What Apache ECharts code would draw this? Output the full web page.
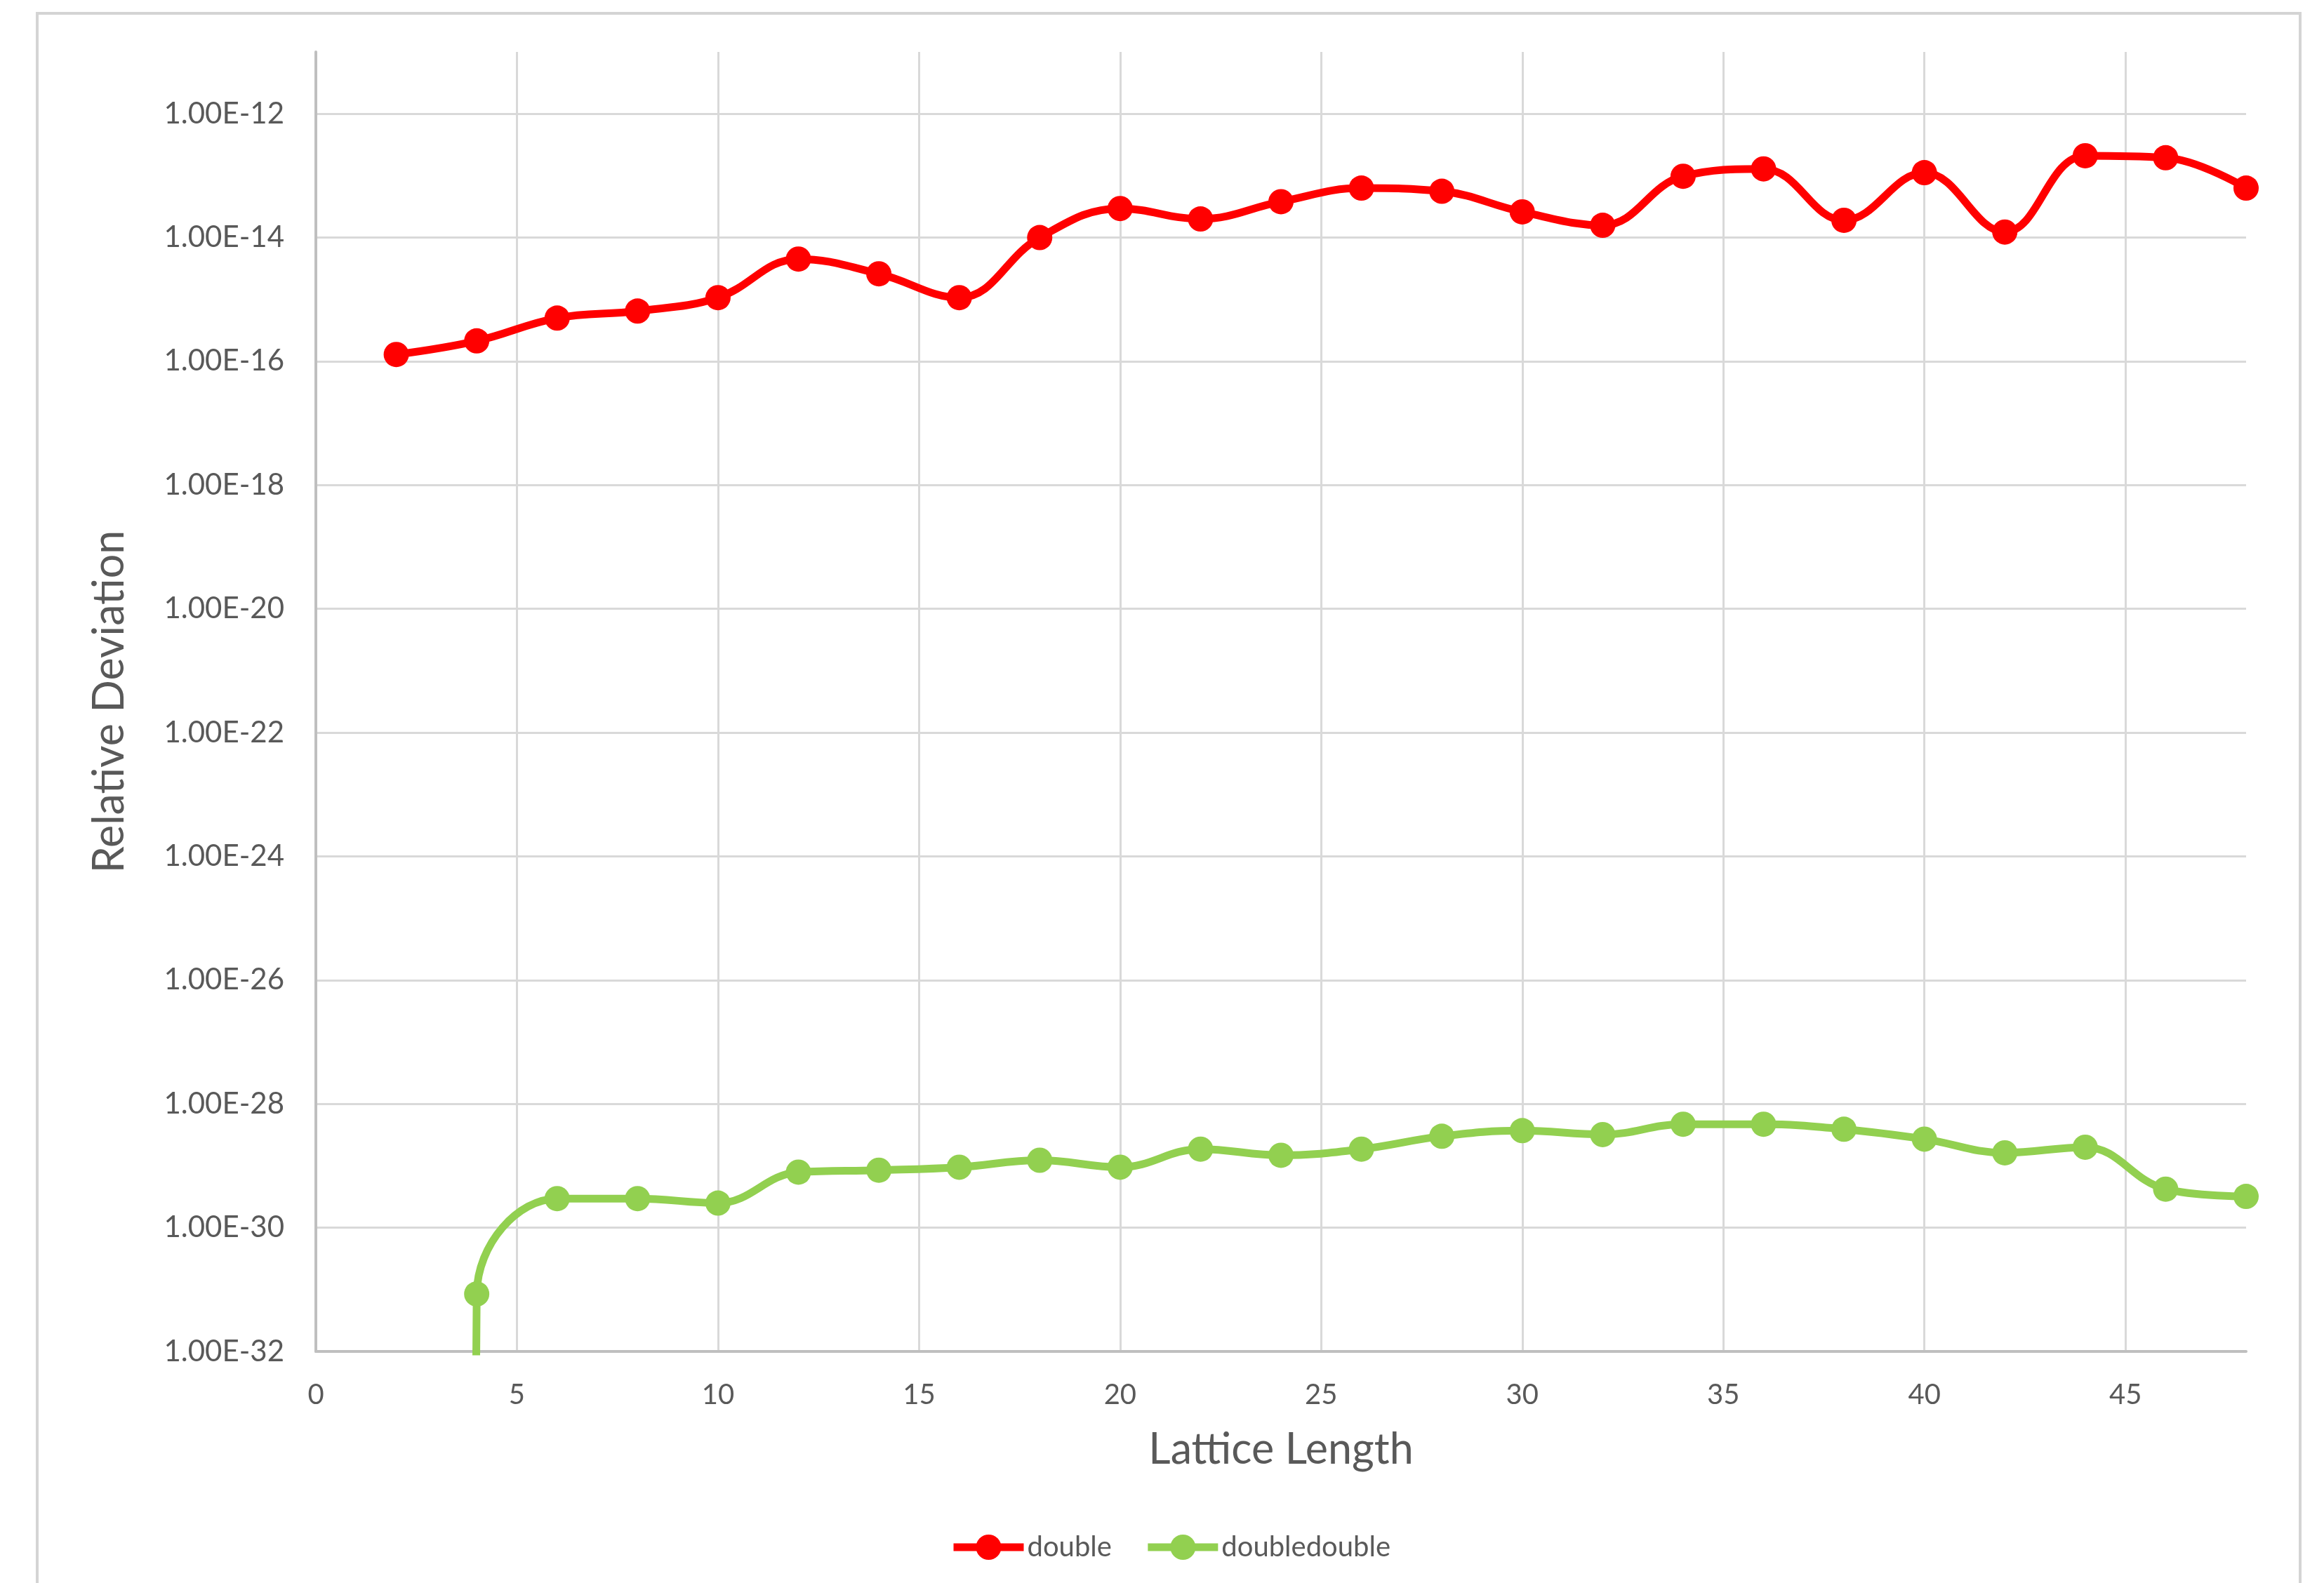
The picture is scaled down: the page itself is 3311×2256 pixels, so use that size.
<!DOCTYPE html>
<html>
<head>
<meta charset="utf-8">
<script src="https://cdn.jsdelivr.net/npm/echarts@6/dist/echarts.min.js"></script>
<style>
  html, body { margin: 0; padding: 0; background: #ffffff; }
  #chart { width: 3311px; height: 2256px; }
</style>
</head>
<body>
<div id="chart"></div>
<script>
// Lattice lengths (x) and relative deviation per precision type
const lattice = [2, 4, 6, 8, 10, 12, 14, 16, 18, 20, 22, 24, 26, 28, 30, 32, 34, 36, 38, 40, 42, 44, 46, 48];

const doubleDev = [
  1.29e-16, 2.14e-16, 5.0e-16, 6.5e-16, 1.07e-15, 4.5e-15, 2.6e-15, 1.07e-15,
  1.0e-14, 2.95e-14, 2.0e-14, 3.8e-14, 6.3e-14, 5.6e-14, 2.6e-14, 1.58e-14,
  9.8e-14, 1.29e-13, 1.9e-14, 1.12e-13, 1.23e-14, 2.1e-13, 1.95e-13, 6.3e-14
];

const doubleDoubleDev = [
  0, 8.5e-32, 2.95e-30, 2.95e-30, 2.5e-30, 7.9e-30, 8.5e-30, 9.5e-30,
  1.23e-29, 9.5e-30, 1.86e-29, 1.48e-29, 1.86e-29, 3.0e-29, 3.7e-29, 3.2e-29,
  4.7e-29, 4.7e-29, 3.9e-29, 2.7e-29, 1.62e-29, 2.0e-29, 4.2e-30, 3.2e-30
];

const seriesNames = ['double', 'doubledouble'];

// Decade exponents shown on the vertical axis and their labels
const yTickExponents = [-32, -30, -28, -26, -24, -22, -20, -18, -16, -14, -12];
const yTickLabels = [
  '1.00E-32', '1.00E-30', '1.00E-28', '1.00E-26', '1.00E-24', '1.00E-22',
  '1.00E-20', '1.00E-18', '1.00E-16', '1.00E-14', '1.00E-12'
];
const xTickLabels = ['0', '5', '10', '15', '20', '25', '30', '35', '40', '45'];

// The vertical axis is logarithmic: it runs over decade exponents.
// A zero deviation has no logarithm; it is drawn as a line that drops
// off the bottom of the plot, like a log chart does with zero values.
const ZERO_EXPONENT = -300;

function toLogPairs(xs, ys) {
  return xs.map((x, i) => [x, ys[i] > 0 ? Math.log10(ys[i]) : ZERO_EXPONENT]);
}

const TEXT = '#595959';
const FONT = 'Lato';

const chart = echarts.init(document.getElementById('chart'), null, { renderer: 'canvas' });

chart.setOption({
  animation: false,
  backgroundColor: '#ffffff',
  graphic: [{
    type: 'rect',
    shape: { x: 53, y: 19, width: 3224, height: 2400 },
    style: { fill: 'none', stroke: '#d4d4d4', lineWidth: 4 },
    silent: true,
    z: -10
  }],
  grid: { left: 450, right: 111, top: 74, bottom: 330 },
  legend: {
    data: seriesNames,
    left: 1348,
    top: 2180,
    itemWidth: 100,
    itemHeight: 45,
    itemGap: 46,
    lineStyle: { width: 11 },
    textStyle: { color: TEXT, fontFamily: FONT, fontSize: 40 }
  },
  xAxis: {
    type: 'value',
    min: 0,
    max: 48,
    interval: 5,
    name: 'Lattice Length',
    nameLocation: 'middle',
    nameGap: 110,
    nameTextStyle: { color: TEXT, fontFamily: FONT, fontSize: 61 },
    axisLine: { show: true, lineStyle: { color: '#bfbfbf', width: 4 } },
    axisTick: { show: false },
    axisLabel: {
      color: TEXT, fontFamily: FONT, fontSize: 40, margin: 42,
      showMaxLabel: false,
      formatter: v => {
        const i = Math.round(v / 5);
        return (v % 5 === 0 && i < xTickLabels.length) ? xTickLabels[i] : '';
      }
    },
    splitLine: { show: true, showMinLine: false, showMaxLine: false, lineStyle: { color: '#d9d9d9', width: 3 } }
  },
  yAxis: {
    type: 'value',
    min: -32,
    max: -11,
    interval: 2,
    name: 'Relative Deviation',
    nameLocation: 'middle',
    nameGap: 263,
    nameTextStyle: { color: TEXT, fontFamily: FONT, fontSize: 61 },
    axisLine: { show: true, lineStyle: { color: '#bfbfbf', width: 4 } },
    axisTick: { show: false },
    axisLabel: {
      color: TEXT, fontFamily: FONT, fontSize: 42, margin: 45,
      showMaxLabel: false,
      formatter: v => {
        const i = yTickExponents.indexOf(Math.round(v));
        return i >= 0 ? yTickLabels[i] : '';
      }
    },
    splitLine: { show: true, showMinLine: false, showMaxLine: false, lineStyle: { color: '#d9d9d9', width: 3 } }
  },
  series: [
    {
      name: seriesNames[0],
      type: 'line',
      data: toLogPairs(lattice, doubleDev),
      smooth: 0.4,
      symbol: 'circle',
      symbolSize: 36,
      color: '#ff0000',
      lineStyle: { color: '#ff0000', width: 11 },
      itemStyle: { color: '#ff0000' },
      clip: true
    },
    {
      name: seriesNames[1],
      type: 'line',
      data: toLogPairs(lattice, doubleDoubleDev),
      smooth: 0.4,
      symbol: 'circle',
      symbolSize: 36,
      color: '#92d050',
      lineStyle: { color: '#92d050', width: 11 },
      itemStyle: { color: '#92d050' },
      clip: true
    }
  ]
});
</script>
</body>
</html>
